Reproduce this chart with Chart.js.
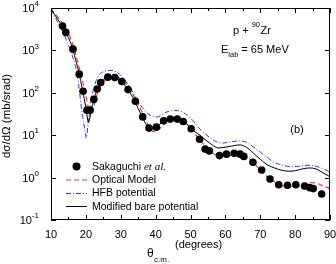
<!DOCTYPE html>
<html>
<head>
<meta charset="utf-8">
<script src="https://cdn.jsdelivr.net/npm/chart.js@4.4.1/dist/chart.umd.min.js"></script>
<style>
  html, body { margin: 0; background: #fff; }
</style>
</head>
<body>
<canvas id="c" width="336" height="264"></canvas>
<script>
// Sakaguchi et al. data (mb/srad)
const expAngle = [13.3, 14.25, 16.3, 18.1, 19.2, 20.3, 21.2, 22.3, 23.25, 24.25, 26.3, 28.3, 30.3, 32.1, 34.2, 36.3, 38.1, 40.2, 42.3, 44.2, 46.2, 47.9, 50.2, 52.6, 54.2, 55.4, 58.3, 60.3, 62.5, 64.2, 65.3, 67.9, 70.4, 72.8, 75.3, 77.8, 80.2, 82.7, 84.2, 85.2, 87.6];
const expXs = [3760, 2660, 1070, 275, 109, 39, 39, 70, 123, 175, 234, 230, 185, 119, 63, 27, 14.7, 15.5, 21.9, 24, 24, 21, 14.2, 8, 4.7, 4.26, 3.3, 3.57, 3.76, 3.57, 3.16, 2.31, 1.51, 0.93, 0.68, 0.66, 0.68, 0.63, 0.58, 0.55, 0.41];

// Optical Model
const omAngle = [10, 12, 14, 16, 18, 19, 20, 20.8, 21.4, 22.3, 23.5, 25, 27, 28.5, 30.5, 32.5, 34.5, 36.5, 38.5, 39.7, 41, 43, 45, 46.7, 48.5, 50.5, 52.7, 55, 57, 58.7, 61, 64, 66, 68, 70, 72, 73.5, 75.4, 77.5, 80, 82.5, 84.6, 86.5, 88.3, 90];
const omXs = [9700, 6000, 3500, 1600, 420, 200, 85, 40, 28, 48, 110, 180, 230, 240, 200, 125, 65, 30, 14, 12, 14, 20, 23.5, 24, 20, 13, 7.7, 4.8, 3.5, 3.2, 3.3, 3.6, 3.2, 2.3, 1.5, 1.05, 0.87, 0.67, 0.62, 0.64, 0.7, 0.76, 0.72, 0.62, 0.55];

// HFB potential
const hfbAngle = [10, 12, 14, 16, 17.5, 18.9, 19.8, 20.1, 20.6, 21.2, 22.6, 24, 26, 27.2, 29, 31, 33, 35, 37, 39, 40.5, 42.5, 44.5, 46.5, 48.5, 50.5, 52.7, 55, 57, 59.2, 61, 64, 66, 68, 70, 72, 74, 76, 79, 81, 83.5, 86, 88.3, 90];
const hfbXs = [9300, 4500, 2100, 800, 275, 34, 12, 8.5, 18, 48, 160, 275, 330, 340, 300, 210, 120, 62, 37, 28, 27, 33, 38, 38, 32, 23, 14, 9.5, 7.3, 6.5, 6.9, 7.3, 6.8, 5.3, 4, 3, 2.3, 2.0, 1.8, 1.85, 1.95, 1.85, 1.58, 1.35];

// Modified bare potential
const mbpAngle = [10, 12, 14, 16, 17, 18, 19, 20, 20.75, 21.5, 22.3, 23.3, 24.3, 26.3, 28, 30, 32, 34, 36, 38.3, 40, 42.5, 44.5, 46.5, 48.5, 50.2, 52.7, 55, 58.2, 61, 64.2, 66, 68, 70, 72, 74, 76, 78.1, 80, 82, 84.2, 86, 88.3, 90];
const mbpXs = [9500, 5300, 2900, 1250, 630, 300, 120, 45, 20, 38, 70, 125, 175, 232, 236, 190, 122, 64, 29, 14.5, 15.5, 22, 25.5, 25.5, 20, 14.2, 10, 7, 5, 5.4, 5.9, 5.2, 3.8, 2.7, 2.0, 1.7, 1.5, 1.42, 1.45, 1.6, 1.69, 1.6, 1.25, 1.05];

const xTickLabels = [10, 20, 30, 40, 50, 60, 70, 80, 90];
const yExponents = [-1, 0, 1, 2, 3, 4];

const RED = 'rgb(245,40,40)';
const BLUE = 'rgb(50,50,255)';
const SANS = '"Liberation Sans", Arial, sans-serif';

const pairs = (xs, ys) => xs.map((v, i) => ({ x: v, y: ys[i] }));

function drawLegendLine(ctx, x0, x1, y, color, dash) {
    ctx.beginPath();
    ctx.setLineDash(dash);
    ctx.strokeStyle = color;
    ctx.moveTo(x0, y);
    ctx.lineTo(x1, y);
    ctx.stroke();
    ctx.setLineDash([]);
}

const decor = {
    id: 'decor',
    afterDraw(chart) {
        const { ctx, chartArea: a, scales: { x, y } } = chart;
        ctx.save();
        ctx.lineWidth = 1;
        ctx.strokeStyle = '#000';
        ctx.fillStyle = '#000';
        ctx.strokeRect(Math.round(a.left) + 0.5, Math.round(a.top) + 0.5,
            Math.round(a.right - a.left) - 1, Math.round(a.bottom - a.top) - 1);

        // inward ticks
        ctx.beginPath();
        for (let v = 10; v <= 90; v += 5) {
            const px = Math.round(x.getPixelForValue(v)) + 0.5;
            const len = v % 10 === 0 ? 5 : 3;
            ctx.moveTo(px, a.bottom); ctx.lineTo(px, a.bottom - len);
            ctx.moveTo(px, a.top); ctx.lineTo(px, a.top + len);
        }
        yExponents.forEach(e => {
            const py = Math.round(y.getPixelForValue(Math.pow(10, e))) + 0.5;
            ctx.moveTo(a.left, py); ctx.lineTo(a.left + 5, py);
            ctx.moveTo(a.right, py); ctx.lineTo(a.right - 5, py);
        });
        ctx.stroke();

        // x tick labels
        ctx.font = '11px ' + SANS;
        ctx.textAlign = 'center';
        ctx.textBaseline = 'middle';
        xTickLabels.forEach(v => {
            ctx.fillText(String(v), x.getPixelForValue(v), 235);
        });

        // y tick labels 10^n
        yExponents.forEach(e => {
            const py = y.getPixelForValue(Math.pow(10, e));
            ctx.font = '8px ' + SANS;
            const ew = ctx.measureText(String(e)).width;
            ctx.font = '11px ' + SANS;
            const bw = ctx.measureText('10').width;
            const right = 39;
            ctx.textAlign = 'left';
            ctx.fillText('10', right - ew - bw, py + 1);
            ctx.font = '8px ' + SANS;
            ctx.fillText(String(e).replace('-', '\u2212').replace('\u2212', '-'), right - ew, py - 4);
        });

        // axis titles
        ctx.save();
        ctx.translate(7, 116);
        ctx.rotate(-Math.PI / 2);
        ctx.textAlign = 'center';
        ctx.font = '11.5px ' + SANS;
        ctx.fillText('d\u03C3/d\u03A9 (mb/srad)', 0, 0);
        ctx.restore();

        ctx.textAlign = 'left';
        ctx.font = '12px ' + SANS;
        ctx.fillText('\u03B8', 147, 254);
        ctx.font = '8px ' + SANS;
        ctx.fillText('c.m.', 154, 260);
        ctx.font = '11px ' + SANS;
        ctx.fillText('(degrees)', 175, 245);

        // reaction labels
        ctx.font = '11px ' + SANS;
        ctx.textBaseline = 'alphabetic';
        let tx = 233;
        ctx.fillText('p + ', tx, 34);
        tx += ctx.measureText('p + ').width;
        ctx.font = '7.5px ' + SANS;
        ctx.fillText('90', tx, 27);
        tx += ctx.measureText('90').width + 0.5;
        ctx.font = '11px ' + SANS;
        ctx.fillText('Zr', tx, 34);

        tx = 221;
        ctx.fillText('E', tx, 53);
        tx += ctx.measureText('E').width;
        ctx.font = '7.5px ' + SANS;
        ctx.fillText('lab', tx, 57);
        tx += ctx.measureText('lab').width + 3;
        ctx.font = '11px ' + SANS;
        ctx.fillText('= 65 MeV', tx, 53);

        ctx.textAlign = 'center';
        ctx.textBaseline = 'middle';
        ctx.fillText('(b)', 297, 130);

        // legend
        ctx.textAlign = 'left';
        ctx.beginPath();
        ctx.arc(76.5, 166.5, 4, 0, Math.PI * 2);
        ctx.fill();
        drawLegendLine(ctx, 66, 87, 180, RED, [5, 3]);
        drawLegendLine(ctx, 66, 87, 193.5, BLUE, [5, 2, 1, 2]);
        drawLegendLine(ctx, 66, 87, 206.5, '#000', []);
        ctx.font = '10.5px ' + SANS;
        ctx.fillText('Sakaguchi ', 92, 167);
        const sw = ctx.measureText('Sakaguchi ').width;
        ctx.font = 'italic 11px "Liberation Serif", serif';
        ctx.fillText('et al.', 92 + sw, 167);
        ctx.font = '10.5px ' + SANS;
        ctx.fillText('Optical Model', 92, 180);
        ctx.fillText('HFB potential', 92, 193.5);
        ctx.fillText('Modified bare potential', 92, 207);
        ctx.restore();
    }
};

new Chart(document.getElementById('c'), {
    type: 'scatter',
    data: {
        datasets: [
            {
                label: 'Sakaguchi et al.',
                data: pairs(expAngle, expXs),
                pointRadius: 3.8,
                pointBackgroundColor: '#000',
                pointBorderWidth: 0,
                showLine: false,
                order: 0
            },
            {
                label: 'Optical Model',
                data: pairs(omAngle, omXs),
                showLine: true,
                pointRadius: 0,
                borderColor: RED,
                borderWidth: 1.1,
                borderDash: [5, 3],
                cubicInterpolationMode: 'monotone',
                order: 3
            },
            {
                label: 'HFB potential',
                data: pairs(hfbAngle, hfbXs),
                showLine: true,
                pointRadius: 0,
                borderColor: BLUE,
                borderWidth: 1,
                borderDash: [5, 2, 1, 2],
                cubicInterpolationMode: 'monotone',
                order: 2
            },
            {
                label: 'Modified bare potential',
                data: pairs(mbpAngle, mbpXs),
                showLine: true,
                pointRadius: 0,
                borderColor: '#000',
                borderWidth: 1,
                cubicInterpolationMode: 'monotone',
                order: 1
            }
        ]
    },
    options: {
        responsive: false,
        animation: false,
        devicePixelRatio: 1,
        layout: { padding: { left: 43, right: 6, top: 8, bottom: 36 } },
        plugins: { legend: { display: false }, tooltip: { enabled: false } },
        scales: {
            x: {
                type: 'linear', min: 10, max: 90,
                grid: { display: false }, border: { display: false },
                ticks: { display: false }
            },
            y: {
                type: 'logarithmic', min: 0.1, max: 10000,
                grid: { display: false }, border: { display: false },
                ticks: { display: false }
            }
        }
    },
    plugins: [decor]
});
</script>
</body>
</html>
